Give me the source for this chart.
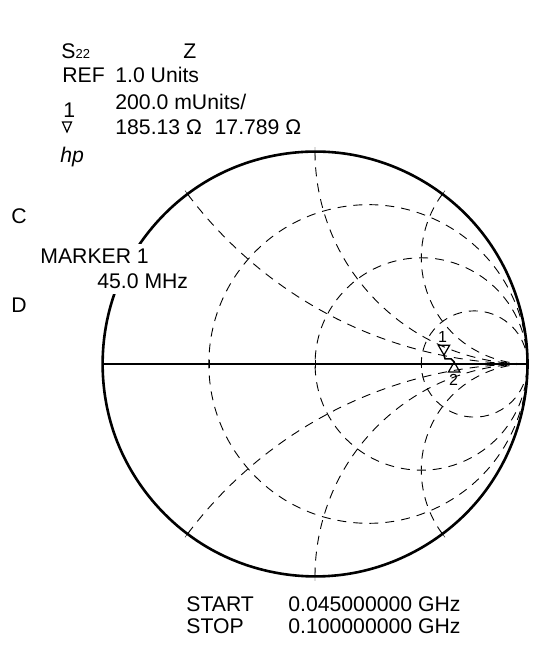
\documentclass[border=0pt]{standalone}
\usepackage{pgfplots}
\pgfplotsset{compat=1.18}
\usepgfplotslibrary{smithchart}
\usepackage{fontspec}
\setmainfont{Liberation Sans}
\begin{document}
\begin{tikzpicture}
\begin{scope}[x=0.5pt,y=0.5pt]
\path[use as bounding box] (0,0) rectangle (535,656);
\end{scope}
\begin{smithchart}[
  at={(157.5pt,146pt)}, anchor=center,
  width=212.5pt, scale only axis,
  xtick={0.3333,1,3}, ytick={-2,-1,-0.5,0.5,1,2},
  xticklabels={}, yticklabels={},
  grid style={black, line width=0.45pt, dash pattern=on 4.5pt off 3.5pt},
  axis line style={black, line width=1.3pt},
  tick style={draw=none},
  clip=false,
]
% real axis
\addplot[is smithchart cs, black, line width=0.5pt] coordinates {(-1,0) (1,0)};
% trace 45 MHz .. 100 MHz
\addplot[is smithchart cs, black, line width=0.8pt] coordinates {(0.607,0.042) (0.612,0.024) (0.641,0.024) (0.655,0.009)};
% marker 1
\addplot[is smithchart cs, only marks, mark=triangle, mark size=3.3pt,
  mark options={yshift=3.3pt, rotate=180, black, line width=0.6pt, fill=white}] coordinates {(0.607,0.042)};
% marker 2
\addplot[is smithchart cs, only marks, mark=triangle, mark size=3.3pt,
  mark options={yshift=-3.3pt, black, line width=0.6pt, fill=white}] coordinates {(0.655,0.009)};
\end{smithchart}
\begin{scope}[x=0.5pt,y=0.5pt, every node/.style={inner sep=0pt, anchor=base west, font=\fontsize{10.6}{12}\selectfont}]
\node at (61,597) {S{\fontsize{6.5}{8}\selectfont 22}};
\node at (183,597) {Z};
\node at (62,573) {REF};
\node at (115,573) {1.0 Units};
\node at (115,546) {200.0 mUnits/};
\node at (63,538) {1};
\draw[line width=0.6pt] (62.5,534) -- (71.5,534) -- (67,524) -- cycle;
\node at (115,521) {185.13 Ω\hspace{0.6em}17.789 Ω};
\node at (60,493) {\itshape hp};
\node at (11,432) {C};
\node[fill=white, inner xsep=2pt, inner ysep=2.5pt] at (36,392) {MARKER 1};
\node[fill=white, inner xsep=2pt, inner ysep=2.5pt] at (93,367) {45.0 MHz};
\node at (11,343) {D};
\node at (186,44) {START};
\node at (288,44) {0.045000000 GHz};
\node at (186,22) {STOP};
\node at (288,22) {0.100000000 GHz};
\node[anchor=base, font=\fontsize{8}{9}\selectfont] at (442.5,313) {1};
\node[anchor=base, font=\fontsize{8}{9}\selectfont] at (453.5,270) {2};
\end{scope}
\end{tikzpicture}
\end{document}
